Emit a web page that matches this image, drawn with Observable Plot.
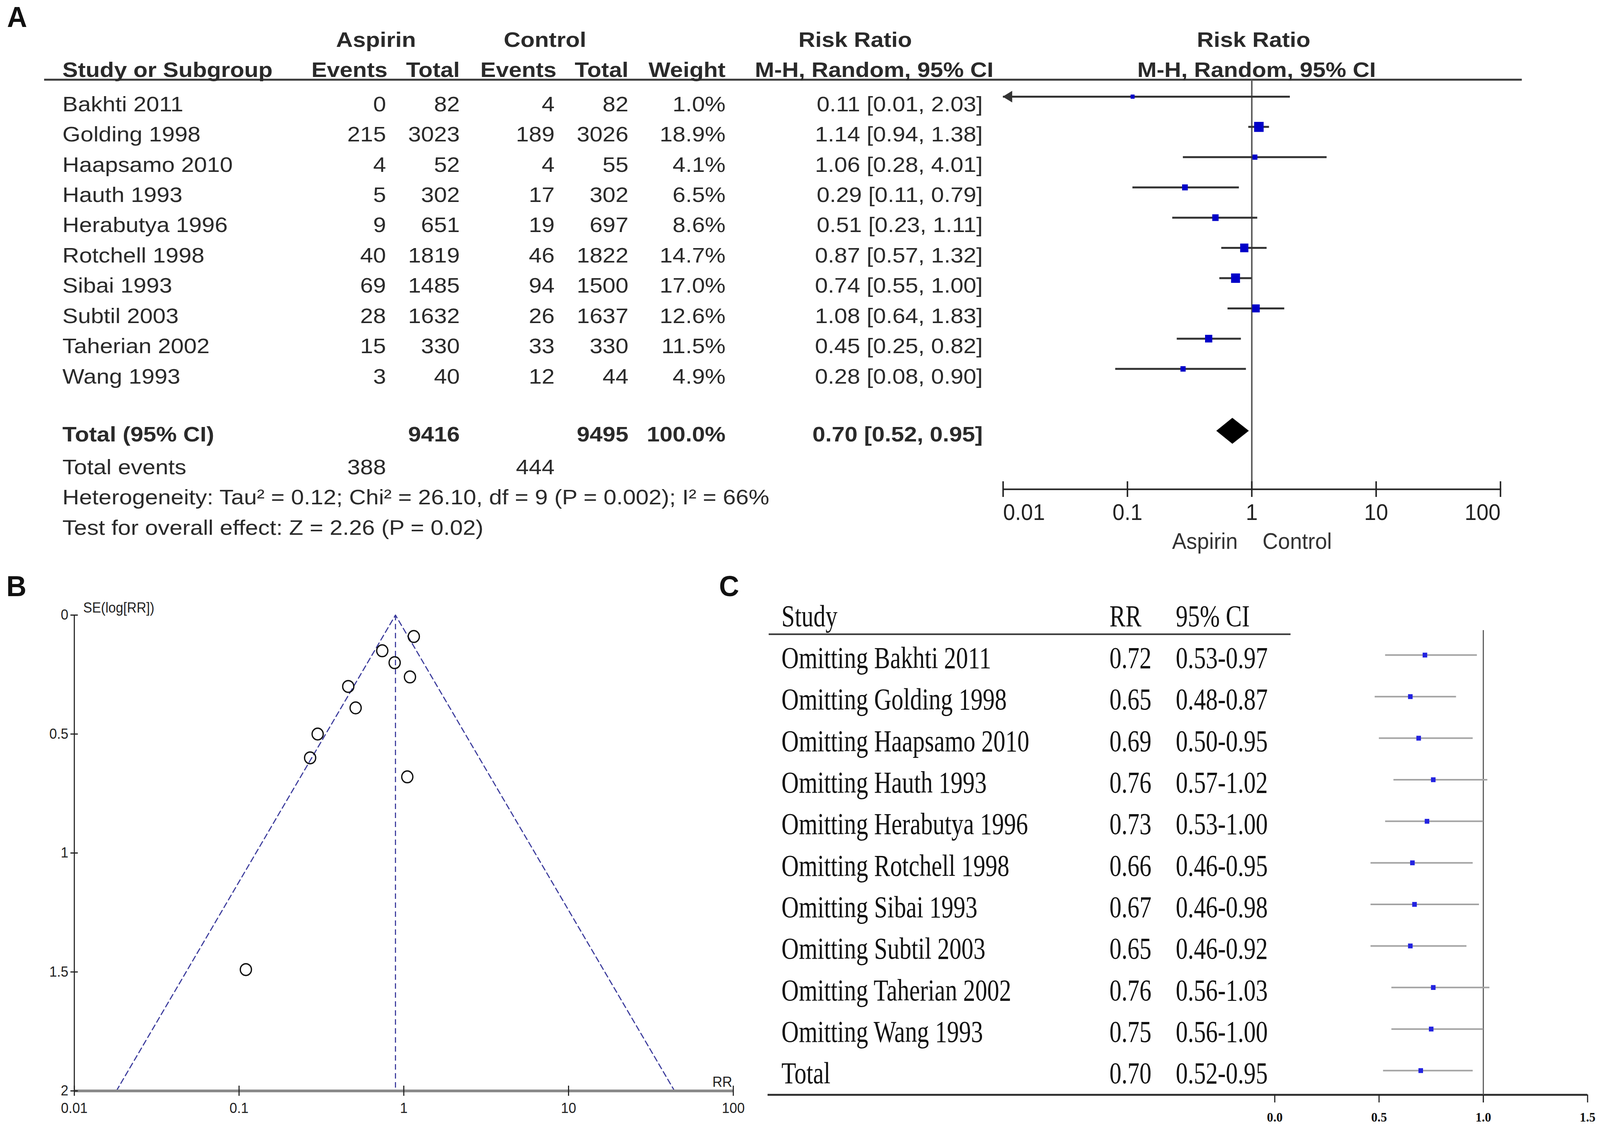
<!DOCTYPE html>
<html>
<head>
<meta charset="utf-8">
<script src="https://cdn.jsdelivr.net/npm/d3@7"></script>
<script src="https://cdn.jsdelivr.net/npm/@observablehq/plot@0.6"></script>
<style>
  html, body { margin: 0; padding: 0; background: #fff; overflow: hidden; }
  #page { position: relative; width: 4317px; height: 2890px; background: #fff; overflow: hidden; transform-origin: 0 0; }
  .panel { position: absolute; }
  .letter { position: absolute; font: bold 75px "Liberation Sans", Arial, sans-serif; line-height: 75px; color: #111; }
</style>
</head>
<body>
<div id="page">
  <div id="pa" class="panel" style="left:0;top:0"></div>
  <div id="pb" class="panel" style="left:0;top:1440px"></div>
  <div id="pc" class="panel" style="left:2000px;top:1450px"></div>
  <div class="letter" style="left:19px;top:6px">A</div>
  <div class="letter" style="left:17px;top:1463px">B</div>
  <div class="letter" style="left:1940px;top:1463px">C</div>
</div>
<script>
// ---------------- DATA ----------------
const studies    = ["Bakhti 2011","Golding 1998","Haapsamo 2010","Hauth 1993","Herabutya 1996","Rotchell 1998","Sibai 1993","Subtil 2003","Taherian 2002","Wang 1993"];
const aspEvents  = [0, 215, 4, 5, 9, 40, 69, 28, 15, 3];
const aspTotal   = [82, 3023, 52, 302, 651, 1819, 1485, 1632, 330, 40];
const ctlEvents  = [4, 189, 4, 17, 19, 46, 94, 26, 33, 12];
const ctlTotal   = [82, 3026, 55, 302, 697, 1822, 1500, 1637, 330, 44];
const weights    = [1.0, 18.9, 4.1, 6.5, 8.6, 14.7, 17.0, 12.6, 11.5, 4.9];
const riskRatio  = [0.11, 1.14, 1.06, 0.29, 0.51, 0.87, 0.74, 1.08, 0.45, 0.28];
const rrLow      = [0.006, 0.94, 0.28, 0.11, 0.23, 0.57, 0.55, 0.64, 0.25, 0.08];
const rrHigh     = [2.03, 1.38, 4.01, 0.79, 1.11, 1.32, 1.00, 1.83, 0.82, 0.90];

const pooledRR = 0.70, pooledLow = 0.52, pooledHigh = 0.95;
const totalAsp = 9416, totalCtl = 9495, totalWeight = 100.0;
const totalEventsAsp = 388, totalEventsCtl = 444;
const summaryLines = [
  "Heterogeneity: Tau\u00B2 = 0.12; Chi\u00B2 = 26.10, df = 9 (P = 0.002); I\u00B2 = 66%",
  "Test for overall effect: Z = 2.26 (P = 0.02)"
];
const headerTop = ["Aspirin", "Control", "Risk Ratio", "Risk Ratio"];
const headerSub = ["Study or Subgroup", "Events", "Total", "Events", "Total", "Weight", "M-H, Random, 95% CI", "M-H, Random, 95% CI"];
const favourLabels = ["Aspirin", "Control"];
const rrTicksA = [0.01, 0.1, 1, 10, 100];

// funnel plot (B)
const funnelSE   = [1.49, 0.09, 0.68, 0.50, 0.39, 0.20, 0.15, 0.26, 0.30, 0.60];
const funnelRR   = [0.11, 1.15, 1.05, 0.30, 0.51, 0.88, 0.74, 1.09, 0.46, 0.27];
const funnelApex = 0.89;
const funnelEdgeRR = [0.018, 0.89, 44];
const funnelEdgeSE = [2, 0, 2];
const seTicks = [0, 0.5, 1, 1.5, 2];
const rrTicksB = [0.01, 0.1, 1, 10, 100];

// sensitivity analysis (C)
const sensLabels = ["Omitting Bakhti 2011","Omitting Golding 1998","Omitting Haapsamo 2010","Omitting Hauth 1993","Omitting Herabutya 1996","Omitting Rotchell 1998","Omitting Sibai 1993","Omitting Subtil 2003","Omitting Taherian 2002","Omitting Wang 1993","Total"];
const sensRR   = [0.72, 0.65, 0.69, 0.76, 0.73, 0.66, 0.67, 0.65, 0.76, 0.75, 0.70];
const sensLow  = [0.53, 0.48, 0.50, 0.57, 0.53, 0.46, 0.46, 0.46, 0.56, 0.56, 0.52];
const sensHigh = [0.97, 0.87, 0.95, 1.02, 1.00, 0.95, 0.98, 0.92, 1.03, 1.00, 0.95];
const sensHeader = ["Study", "RR", "95% CI"];
const sensTicks = [0.0, 0.5, 1.0, 1.5];

// ---------------- fit the 4317x2890 layout to the actual viewport ----------------
(function fit() {
  const page = document.getElementById("page");
  const sx = window.innerWidth / 4317, sy = window.innerHeight / 2890;
  if (Math.abs(sx - 1) > 0.002 || Math.abs(sy - 1) > 0.002) page.style.transform = `scale(${sx}, ${sy})`;
})();

// ---------------- helpers ----------------
function stretchText(svg, size, sx) {
  svg.querySelectorAll("g").forEach(g => {
    if (parseFloat(g.getAttribute("font-size")) === size) {
      g.querySelectorAll("text").forEach(t => {
        t.setAttribute("transform", (t.getAttribute("transform") || "") + ` scale(${sx},1)`);
      });
    }
  });
}
const f2 = d => d.toFixed(2);

// ---------------- PANEL A ----------------
{
  const W = 4317, H = 1440;
  const ML = 2706, MR = W - 4048, MT = 203, MB = H - 1252;
  const FH = H - MT - MB;
  const xMin = rrTicksA[0];
  const rows = studies.map((s, i) => ({
    study: s, ae: aspEvents[i], at: aspTotal[i], ce: ctlEvents[i], ct: ctlTotal[i],
    w: weights[i], rr: riskRatio[i], lo: rrLow[i], hi: rrHigh[i], row: i + 2
  }));
  const TOT = studies.length + 3;
  const col = {study: 168, ae: 1041, at: 1240, ce: 1496, ct: 1695, w: 1957, ci: 2651, asp: 1014, ctl: 1470, rrHead: 2307, mh: 2358};
  const T = {fontSize: 54, fontFamily: "Liberation Sans, Arial, sans-serif", fill: "#2a2a2a", frameAnchor: "left", lineAnchor: "middle"};
  const B = {...T, fontWeight: "bold"};
  const AX = {fontSize: 58, fill: "#222", frameAnchor: "bottom", lineAnchor: "middle"};
  const one = (txt, row, key, anchor, base, extra = {}) =>
    Plot.text([txt], {...base, y: () => row, text: d => d, dx: col[key] - ML, textAnchor: anchor, ...extra});
  const diamondHalf = 0.43;
  const diamond = [
    {x: pooledLow, y1: TOT, y2: TOT},
    {x: pooledRR, y1: TOT - diamondHalf, y2: TOT + diamondHalf},
    {x: pooledHigh, y1: TOT, y2: TOT}
  ];
  const nT = rrTicksA.length;
  const plotA = Plot.plot({
    width: W, height: H, marginLeft: ML, marginRight: MR, marginTop: MT, marginBottom: MB,
    x: {type: "log", domain: [rrTicksA[0], rrTicksA[nT - 1]], axis: null},
    y: {domain: [0, 16], range: [112, 1351], axis: null},
    r: {type: "linear", domain: [0, 18.9], range: [5.6, 14.5]},
    style: {background: "transparent", fontFamily: "Liberation Sans, Arial, sans-serif", overflow: "visible"},
    marks: [
      Plot.ruleY([1], {dy: 14, insetLeft: 119 - ML, insetRight: (W - MR) - 4106, stroke: "#3a3a3a", strokeWidth: 5}),
      Plot.ruleX([1], {stroke: "#555", strokeWidth: 4}),
      Plot.frame({anchor: "bottom", stroke: "#222", strokeWidth: 4}),
      Plot.tickX(rrTicksA, {x: d => d, insetTop: FH - 20, insetBottom: -20, stroke: "#222", strokeWidth: 4}),
      Plot.text(rrTicksA, {...AX, filter: (d, i) => i === 0, x: d => d, text: d => String(d), dy: 60, textAnchor: "start"}),
      Plot.text(rrTicksA, {...AX, filter: (d, i) => i > 0 && i < nT - 1, x: d => d, text: d => String(d), dy: 60, textAnchor: "middle"}),
      Plot.text(rrTicksA, {...AX, filter: (d, i) => i === nT - 1, x: d => d, text: d => String(d), dy: 60, textAnchor: "end"}),
      Plot.text([favourLabels[0]], {...AX, x: () => 1, text: d => d, dy: 134, dx: -38, textAnchor: "end", fill: "#333"}),
      Plot.text([favourLabels[1]], {...AX, x: () => 1, text: d => d, dy: 134, dx: 29, textAnchor: "start", fill: "#333"}),
      Plot.ruleY(rows, {y: "row", x1: d => Math.max(d.lo, xMin), x2: "hi", stroke: "#333", strokeWidth: 5, dy: -20}),
      Plot.dot(rows.filter(d => d.lo < xMin), {x: () => xMin, y: "row", symbol: "triangle", rotate: -90, r: 11, fill: "#333", dy: -20, dx: 16}),
      Plot.dot(rows, {x: "rr", y: "row", r: "w", symbol: "square", fill: "#0000c8", dy: -20}),
      Plot.areaY(diamond, {x: "x", y1: "y1", y2: "y2", fill: "#000", dy: -16}),
      one(headerTop[0], 0, "asp", "middle", B, {dy: -10}),
      one(headerTop[1], 0, "ctl", "middle", B, {dy: -10}),
      one(headerTop[2], 0, "rrHead", "middle", B, {dy: -10}),
      Plot.text([headerTop[3]], {...B, frameAnchor: undefined, x: () => 1, y: () => 0, text: d => d, dx: 5, dy: -10, textAnchor: "middle"}),
      one(headerSub[0], 1, "study", "start", B, {dy: -10}),
      one(headerSub[1], 1, "ae", "end", B, {dy: -10, dx: col.ae - ML + 4}),
      one(headerSub[2], 1, "at", "end", B, {dy: -10}),
      one(headerSub[3], 1, "ce", "end", B, {dy: -10, dx: col.ce - ML + 5}),
      one(headerSub[4], 1, "ct", "end", B, {dy: -10}),
      one(headerSub[5], 1, "w", "end", B, {dy: -10}),
      one(headerSub[6], 1, "mh", "middle", B, {dy: -10}),
      Plot.text([headerSub[7]], {...B, frameAnchor: undefined, x: () => 1, y: () => 1, text: d => d, dx: 13, dy: -10, textAnchor: "middle"}),
      Plot.text(rows, {...T, y: "row", text: "study", dx: col.study - ML, textAnchor: "start"}),
      Plot.text(rows, {...T, y: "row", text: d => String(d.ae), dx: col.ae - ML, textAnchor: "end"}),
      Plot.text(rows, {...T, y: "row", text: d => String(d.at), dx: col.at - ML, textAnchor: "end"}),
      Plot.text(rows, {...T, y: "row", text: d => String(d.ce), dx: col.ce - ML, textAnchor: "end"}),
      Plot.text(rows, {...T, y: "row", text: d => String(d.ct), dx: col.ct - ML, textAnchor: "end"}),
      Plot.text(rows, {...T, y: "row", text: d => d.w.toFixed(1) + "%", dx: col.w - ML, textAnchor: "end"}),
      Plot.text(rows, {...T, y: "row", text: d => `${f2(d.rr)} [${f2(d.lo)}, ${f2(d.hi)}]`, dx: col.ci - ML, textAnchor: "end"}),
      one("Total (95% CI)", TOT, "study", "start", B, {dy: -6}),
      one(String(totalAsp), TOT, "at", "end", B, {dy: -6}),
      one(String(totalCtl), TOT, "ct", "end", B, {dy: -6}),
      one(totalWeight.toFixed(1) + "%", TOT, "w", "end", B, {dy: -6}),
      one(`${f2(pooledRR)} [${f2(pooledLow)}, ${f2(pooledHigh)}]`, TOT, "ci", "end", B, {dy: -6}),
      one("Total events", TOT + 1, "study", "start", T),
      one(String(totalEventsAsp), TOT + 1, "ae", "end", T),
      one(String(totalEventsCtl), TOT + 1, "ce", "end", T),
      one(summaryLines[0], TOT + 2, "study", "start", T),
      one(summaryLines[1], TOT + 3, "study", "start", T)
    ]
  });
  stretchText(plotA, 54, 1.16);
  document.getElementById("pa").appendChild(plotA);
}

// ---------------- PANEL B ----------------
{
  const W = 2000, H = 1450;
  const ML = 200, MR = 22, MT = 134, MB = 98;
  const FW = W - ML - MR, FH = H - MT - MB;
  const pts = studies.map((s, i) => ({study: s, rr: funnelRR[i], se: funnelSE[i]}));
  const edge = funnelEdgeRR.map((x, i) => ({x, se: funnelEdgeSE[i]}));
  const dash = {stroke: "#3b3b9c", strokeWidth: 3, strokeDasharray: "14,9"};
  const TX = {fontSize: 37, fill: "#222", lineAnchor: "middle"};
  const plotB = Plot.plot({
    width: W, height: H, marginLeft: ML, marginRight: MR, marginTop: MT, marginBottom: MB,
    x: {type: "log", domain: [rrTicksB[0], rrTicksB[rrTicksB.length - 1]], axis: null},
    y: {domain: [seTicks[0], seTicks[seTicks.length - 1]], reverse: true, axis: null},
    style: {background: "transparent", fontFamily: "Liberation Sans, Arial, sans-serif", overflow: "visible"},
    marks: [
      Plot.line(edge, {x: "x", y: "se", ...dash}),
      Plot.ruleX([funnelApex], {y1: seTicks[0], y2: seTicks[seTicks.length - 1], ...dash}),
      Plot.ruleX([rrTicksB[0]], {stroke: "#222", strokeWidth: 3}),
      Plot.ruleY([seTicks[seTicks.length - 1]], {stroke: "#8a8a8a", strokeWidth: 7}),
      Plot.tickX(rrTicksB, {x: d => d, insetTop: FH - 13, insetBottom: -13, stroke: "#222", strokeWidth: 3}),
      Plot.tickY(seTicks, {y: d => d, insetLeft: -10, insetRight: FW - 10, stroke: "#222", strokeWidth: 3}),
      Plot.text(rrTicksB, {...TX, x: d => d, text: d => String(d), frameAnchor: "bottom", dy: 45}),
      Plot.text(seTicks, {...TX, y: d => d, text: d => String(d), frameAnchor: "left", dx: -16, textAnchor: "end"}),
      Plot.dot(pts, {x: "rr", y: "se", r: 15, stroke: "#111", strokeWidth: 3.5, fill: "none"}),
      Plot.text(["SE(log[RR])"], {...TX, fontSize: 36, frameAnchor: "top-left", dx: 24, dy: -18, textAnchor: "start"}),
      Plot.text(["RR"], {...TX, frameAnchor: "bottom-right", dx: -3, dy: -22, textAnchor: "end"})
    ]
  });
  document.getElementById("pb").appendChild(plotB);
}

// ---------------- PANEL C ----------------
{
  const W = 2317, H = 1440;
  const ML = 1439, MR = 34, MT = 163, MB = 88;
  const FH = H - MT - MB;
  const rows = sensLabels.map((s, i) => ({label: s, rr: sensRR[i], lo: sensLow[i], hi: sensHigh[i], row: i + 1}));
  const col = {study: 108, rr: 993, ci: 1172, lineL: 74, lineR: 1482, bottomL: 71};
  const T = {fontSize: 78, fontFamily: "Liberation Serif, Times New Roman, serif", fill: "#111", frameAnchor: "left", textAnchor: "start", lineAnchor: "middle"};
  const last = rows.length;
  const plotC = Plot.plot({
    width: W, height: H, marginLeft: ML, marginRight: MR, marginTop: MT, marginBottom: MB,
    x: {domain: [sensTicks[0], sensTicks[sensTicks.length - 1]], axis: null},
    y: {domain: [0, last], range: [128, 1298], axis: null},
    style: {background: "transparent", fontFamily: "Liberation Serif, serif", overflow: "visible"},
    marks: [
      Plot.ruleY([0], {dy: 45, insetLeft: col.lineL - ML, insetRight: (W - MR) - col.lineR, stroke: "#333", strokeWidth: 4}),
      Plot.ruleY([last], {dy: 54, insetLeft: col.bottomL - ML, stroke: "#333", strokeWidth: 5}),
      Plot.ruleX([1], {insetBottom: -20, stroke: "#555", strokeWidth: 3}),
      Plot.tickX(sensTicks, {x: d => d, insetTop: FH, insetBottom: -20, stroke: "#222", strokeWidth: 3}),
      Plot.text(sensTicks, {x: d => d, text: d => d.toFixed(1), frameAnchor: "bottom", lineAnchor: "middle", dy: 58, fontSize: 34, fontWeight: "bold", fontFamily: "Liberation Serif, serif", fill: "#111"}),
      Plot.ruleY(rows, {y: "row", x1: "lo", x2: "hi", stroke: "#a3a3a3", strokeWidth: 4, dy: -8}),
      Plot.dot(rows, {x: "rr", y: "row", symbol: "square", r: 7, fill: "#2323e0", dy: -8}),
      Plot.text([sensHeader[0]], {...T, y: () => 0, text: d => d, dx: col.study - ML}),
      Plot.text([sensHeader[1]], {...T, y: () => 0, text: d => d, dx: col.rr - ML}),
      Plot.text([sensHeader[2]], {...T, y: () => 0, text: d => d, dx: col.ci - ML}),
      Plot.text(rows, {...T, y: "row", text: "label", dx: col.study - ML}),
      Plot.text(rows, {...T, y: "row", text: d => f2(d.rr), dx: col.rr - ML}),
      Plot.text(rows, {...T, y: "row", text: d => `${f2(d.lo)}-${f2(d.hi)}`, dx: col.ci - ML})
    ]
  });
  stretchText(plotC, 78, 0.83);
  document.getElementById("pc").appendChild(plotC);
}
</script>
</body>
</html>
